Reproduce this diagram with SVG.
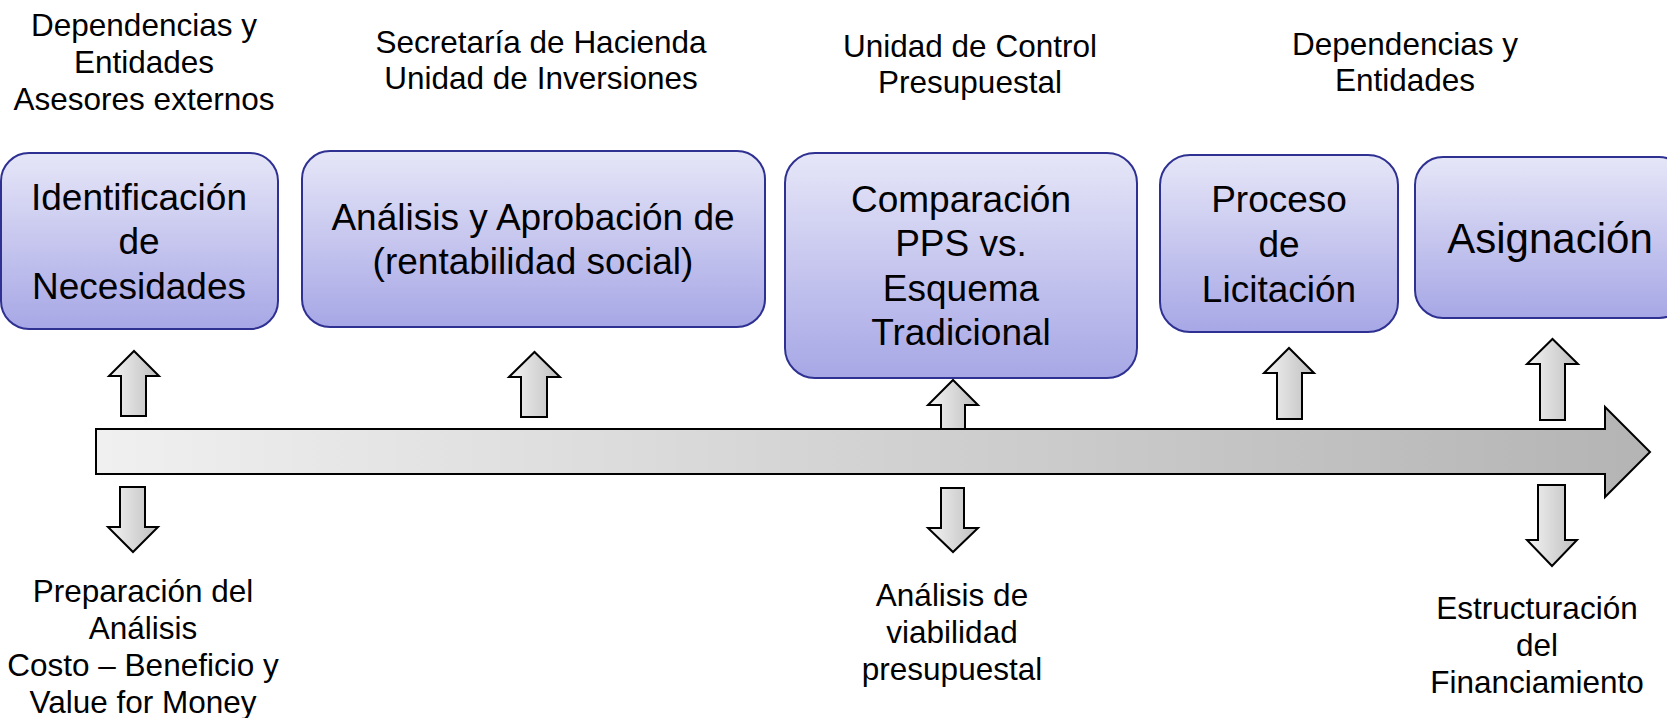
<svg xmlns="http://www.w3.org/2000/svg" width="1667" height="718" viewBox="0 0 1667 718">
<defs>
<linearGradient id="boxg" x1="0" y1="0" x2="0" y2="1">
<stop offset="0" stop-color="#E6E6F8"/>
<stop offset="1" stop-color="#A7A7E6"/>
</linearGradient>
<linearGradient id="barg" x1="0" y1="0" x2="1" y2="0">
<stop offset="0" stop-color="#F0F0F0"/>
<stop offset="1" stop-color="#B4B4B4"/>
</linearGradient>
<linearGradient id="arrg" x1="0" y1="0" x2="1" y2="0">
<stop offset="0" stop-color="#F4F4F4"/>
<stop offset="1" stop-color="#BEBEBE"/>
</linearGradient>
<style>
.box{fill:url(#boxg);stroke:#2E3192;stroke-width:2}
.bt{font-family:"Liberation Sans",Arial,sans-serif;font-size:37px;fill:#000;text-anchor:middle}
.lt{font-family:"Liberation Sans",Arial,sans-serif;font-size:31.5px;fill:#000;text-anchor:middle}
.arr{fill:url(#arrg);stroke:#000;stroke-width:2;stroke-linejoin:miter}
.bar{fill:url(#barg);stroke:#000;stroke-width:2}
</style>
</defs>
<rect width="1667" height="718" fill="#fff"/>

<g id="labels-top">
<text class="lt" x="144" y="36">Dependencias y</text>
<text class="lt" x="144" y="73">Entidades</text>
<text class="lt" x="144" y="110">Asesores externos</text>
<text class="lt" x="541" y="53">Secretaría de Hacienda</text>
<text class="lt" x="541" y="89">Unidad de Inversiones</text>
<text class="lt" x="970" y="57">Unidad de Control</text>
<text class="lt" x="970" y="93">Presupuestal</text>
<text class="lt" x="1405" y="55">Dependencias y</text>
<text class="lt" x="1405" y="91">Entidades</text>
</g>

<g id="connectors">
<path class="arr" d="M121,416 L121,376 L109,376 L134,351 L159,376 L146,376 L146,416 Z"/>
<path class="arr" d="M521,417 L521,377 L509,377 L534.5,352 L560,377 L547,377 L547,417 Z"/>
<path class="arr" d="M941,431 L941,405 L928,405 L953,380 L978,405 L965,405 L965,431 Z"/>
<path class="arr" d="M1277,419 L1277,373 L1264,373 L1289,348 L1314,373 L1302,373 L1302,419 Z"/>
<path class="arr" d="M1540,420 L1540,364 L1527,364 L1552.5,339 L1578,364 L1565,364 L1565,420 Z"/>
<path id="timeline" class="bar" d="M96,429 L1605,429 L1605,407 L1650,452 L1605,497 L1605,474 L96,474 Z"/>
<path class="arr" d="M120,487 L145,487 L145,527 L158,527 L133,552 L108,527 L120,527 Z"/>
<path class="arr" d="M941,488 L964,488 L964,528 L978,528 L953,552 L928,528 L941,528 Z"/>
<path class="arr" d="M1538,485 L1565,485 L1565,540 L1577,540 L1552,566 L1527,540 L1538,540 Z"/>
</g>

<g id="n1">
<rect class="box" x="1" y="153" width="277" height="176" rx="28"/>
<text class="bt" x="139" y="210">Identificación</text>
<text class="bt" x="139" y="254">de</text>
<text class="bt" x="139" y="299">Necesidades</text>
</g>
<g id="n2">
<rect class="box" x="302" y="151" width="463" height="176" rx="28"/>
<text class="bt" x="533" y="230">Análisis y Aprobación de</text>
<text class="bt" x="533" y="274">(rentabilidad social)</text>
</g>
<g id="n3">
<rect class="box" x="785" y="153" width="352" height="225" rx="30"/>
<text class="bt" x="961" y="212">Comparación</text>
<text class="bt" x="961" y="256">PPS vs.</text>
<text class="bt" x="961" y="301">Esquema</text>
<text class="bt" x="961" y="345">Tradicional</text>
</g>
<g id="n4">
<rect class="box" x="1160" y="155" width="238" height="177" rx="30"/>
<text class="bt" x="1279" y="212">Proceso</text>
<text class="bt" x="1279" y="257">de</text>
<text class="bt" x="1279" y="302">Licitación</text>
</g>
<g id="n5">
<rect class="box" x="1415" y="157" width="272" height="161" rx="28"/>
<text class="bt" x="1550" y="253" style="font-size:42px">Asignación</text>
</g>

<g id="labels-bottom">
<text class="lt" x="143" y="602">Preparación del</text>
<text class="lt" x="143" y="639">Análisis</text>
<text class="lt" x="143" y="676">Costo – Beneficio y</text>
<text class="lt" x="143" y="713">Value for Money</text>
<text class="lt" x="952" y="606">Análisis de</text>
<text class="lt" x="952" y="643">viabilidad</text>
<text class="lt" x="952" y="680">presupuestal</text>
<text class="lt" x="1537" y="619">Estructuración</text>
<text class="lt" x="1537" y="656">del</text>
<text class="lt" x="1537" y="693">Financiamiento</text>
</g>
</svg>
